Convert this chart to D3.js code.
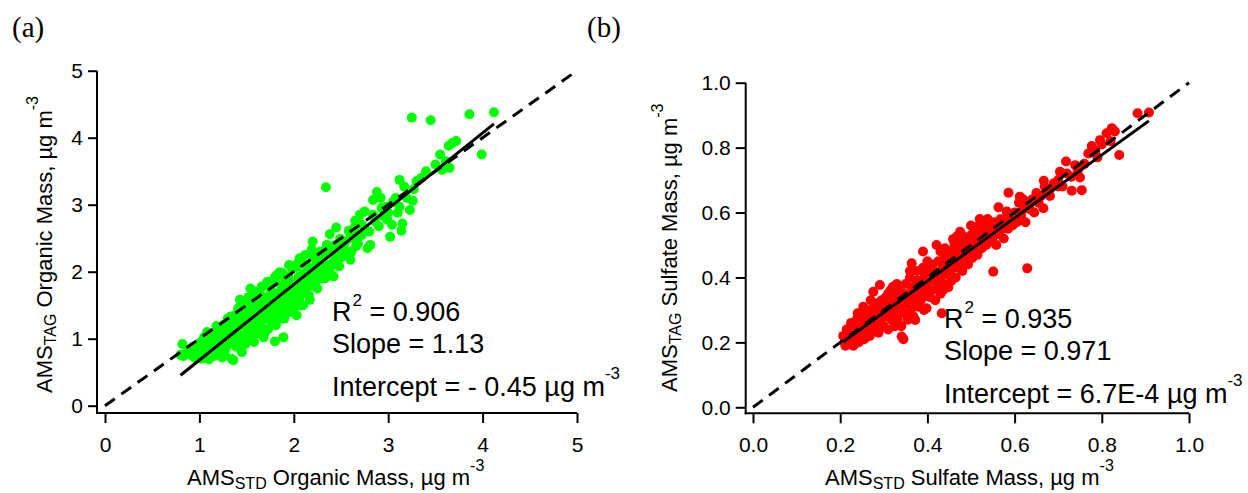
<!DOCTYPE html>
<html>
<head>
<meta charset="utf-8">
<script src="https://cdnjs.cloudflare.com/ajax/libs/d3/7.8.5/d3.min.js"></script>
<style>
  body { margin: 0; background: #fff; }
  svg text { white-space: pre; }
</style>
</head>
<body>
<div id="chart"></div>
<script>
// organic mass: [AMS_STD, AMS_TAG], ug m-3
const organicPoints = [
  [0.80,0.76],[0.82,0.92],[0.83,0.74],[0.86,0.78],[0.88,0.83],[0.90,0.76],[0.93,0.88],[0.95,0.72],[0.97,0.80],
  [1.00,0.93],[1.00,0.76],[1.02,0.70],[1.03,0.85],[1.05,1.02],[1.06,0.78],[1.08,1.10],[1.08,0.91],[1.10,0.69],
  [1.11,0.82],[1.12,1.05],[1.13,0.95],[1.15,0.74],[1.16,0.88],[1.18,1.19],[1.18,1.02],[1.20,0.80],[1.21,0.94],
  [1.22,1.10],[1.24,0.72],[1.25,0.98],[1.26,1.21],[1.28,0.86],[1.29,1.06],[1.30,1.30],[1.31,0.93],[1.33,1.15],
  [1.34,0.70],[1.35,1.02],[1.36,0.68],[1.37,1.25],[1.38,1.35],[1.39,0.88],[1.40,1.10],[1.41,1.45],[1.42,0.97],
  [1.43,1.58],[1.44,1.20],[1.45,0.80],[1.46,1.33],[1.47,1.05],[1.48,1.42],[1.49,0.92],[1.50,1.54],[1.50,1.18],
  [1.52,1.28],[1.53,1.00],[1.54,1.75],[1.55,1.38],[1.56,1.12],[1.57,1.48],[1.58,0.95],[1.59,1.25],
  [1.60,1.62],[1.61,1.35],[1.62,1.08],[1.63,1.45],[1.64,1.70],[1.65,1.20],[1.66,1.55],[1.67,1.30],[1.68,1.02],
  [1.69,1.48],[1.70,1.80],[1.71,1.38],[1.72,1.62],[1.73,1.15],[1.74,1.52],[1.75,1.28],[1.76,1.72],[1.77,1.42],
  [1.78,1.60],[1.79,1.22],[1.80,0.96],[1.80,1.85],[1.81,1.50],[1.82,1.95],[1.83,1.35],[1.84,1.68],[1.85,1.99],
  [1.86,1.45],[1.87,1.78],[1.88,1.58],[1.89,1.02],[1.90,1.30],[1.91,1.88],[1.92,1.65],[1.93,1.50],[1.94,1.92],
  [1.95,1.75],[1.96,1.40],[1.97,1.60],[1.98,2.05],[1.99,1.82],
  [2.00,1.55],[2.02,2.10],[2.03,1.35],[2.03,2.07],[2.04,1.70],[2.05,1.92],[2.06,1.62],[2.08,2.15],[2.09,1.80],
  [2.10,1.50],[2.11,1.98],[2.12,1.72],[2.14,2.10],[2.15,1.88],[2.16,1.65],[2.17,1.58],[2.18,2.02],[2.19,2.33],
  [2.20,2.45],[2.20,1.80],[2.21,2.22],[2.22,1.95],[2.24,2.12],[2.25,1.75],[2.27,2.05],[2.28,2.30],[2.29,1.90],
  [2.30,2.18],[2.31,2.00],[2.33,2.25],[2.34,3.26],[2.35,2.40],[2.35,2.10],[2.37,1.95],[2.38,2.56],[2.38,2.03],
  [2.40,2.28],[2.42,1.93],[2.42,2.15],[2.44,2.25],[2.45,2.66],[2.46,2.38],[2.48,2.08],[2.49,2.49],
  [2.51,2.22],[2.53,2.35],[2.55,2.45],[2.58,2.61],[2.60,2.18],[2.61,2.30],[2.63,2.50],[2.65,2.76],[2.66,2.38],
  [2.68,2.42],[2.70,2.85],[2.72,2.55],[2.75,2.90],[2.76,2.62],[2.78,2.35],[2.81,2.40],[2.84,2.85],[2.84,3.07],
  [2.88,3.19],[2.90,2.68],[2.92,3.10],[2.95,2.83],[2.98,2.97],[2.99,2.78],[3.02,2.52],[3.04,2.70],[3.05,3.04],
  [3.10,2.88],[3.12,2.97],[3.12,3.37],[3.14,2.61],[3.15,2.72],[3.17,3.27],[3.23,2.92],[3.26,3.06],[3.27,3.23],
  [3.25,4.30],[3.35,3.40],[3.45,4.26],[3.57,3.52],[3.61,3.65],[3.64,3.88],[3.65,3.55],[3.68,3.92],[3.72,3.95],
  [3.86,4.35],[3.99,3.75],[4.12,4.38],
  [1.02,0.95],[1.07,0.88],[1.12,0.78],[1.14,1.08],[1.19,0.90],[1.23,1.00],[1.27,0.80],[1.32,1.05],[1.36,0.95],
  [1.40,1.25],[1.44,1.02],[1.47,1.22],[1.51,1.08],[1.54,1.30],[1.58,1.15],[1.61,1.50],[1.64,1.25],[1.68,1.40],
  [1.70,1.10],[1.72,1.30],[1.75,1.45],[1.78,1.35],[1.81,1.20],[1.84,1.50],[1.87,1.30],[1.90,1.60],[1.93,1.40],
  [1.96,1.70],[2.00,1.45],[2.03,1.85],[2.06,1.50],[2.10,1.70],[2.13,1.95],[2.16,1.80],[2.20,2.05],[2.23,1.85],
  [2.26,2.20],[2.30,2.05],[2.33,1.90],[2.36,2.30],[2.40,2.10],[2.44,2.40],[2.47,2.30],[2.52,2.40],[2.56,2.28],
  [2.60,2.55],[2.64,2.65],[2.67,2.50],[2.72,2.70],[2.80,2.60],[2.86,2.75],[2.93,2.95],[3.00,2.88],[3.08,3.10],
  [3.20,3.10],[3.30,3.35],[3.40,3.50],[3.50,3.60],[3.55,3.75],[1.20,1.12],[1.27,1.15],[1.33,1.33],[1.45,1.48],
  [1.52,1.62],[1.60,1.70],[1.66,1.78],[1.72,1.85],[1.80,1.92],[1.88,1.98],[1.95,2.10],[2.06,2.20],[2.12,2.25]
];

// sulfate mass: [AMS_STD, AMS_TAG], ug m-3
const sulfatePoints = [
  [0.207,0.22],[0.21,0.20],[0.212,0.19],[0.215,0.24],[0.218,0.21],[0.22,0.23],[0.222,0.20],[0.225,0.26],[0.228,0.22],
  [0.23,0.19],[0.233,0.24],[0.235,0.21],[0.238,0.27],[0.24,0.23],[0.242,0.20],[0.245,0.25],[0.248,0.22],[0.25,0.29],
  [0.252,0.24],[0.253,0.31],[0.255,0.21],[0.258,0.26],[0.26,0.23],[0.262,0.28],[0.265,0.25],[0.268,0.22],[0.27,0.30],
  [0.272,0.26],[0.275,0.24],[0.276,0.356],[0.278,0.28],[0.28,0.25],[0.282,0.32],[0.285,0.27],[0.288,0.23],[0.29,0.30],
  [0.291,0.377],[0.293,0.26],[0.295,0.33],[0.298,0.28],
  [0.30,0.25],[0.302,0.31],[0.305,0.34],[0.308,0.28],[0.31,0.24],[0.312,0.30],[0.315,0.36],[0.318,0.27],[0.32,0.32],
  [0.321,0.371],[0.323,0.29],[0.325,0.25],[0.328,0.34],[0.33,0.31],[0.332,0.27],[0.335,0.36],[0.338,0.30],[0.34,0.25],
  [0.341,0.218],[0.343,0.33],[0.345,0.21],[0.347,0.29],[0.35,0.38],[0.352,0.32],[0.355,0.27],[0.358,0.35],[0.36,0.40],
  [0.362,0.30],[0.364,0.444],[0.365,0.34],[0.368,0.28],[0.37,0.37],[0.372,0.269],[0.374,0.32],[0.376,0.42],[0.378,0.35],
  [0.38,0.31],[0.382,0.39],[0.385,0.33],[0.388,0.37],[0.39,0.48],[0.392,0.30],[0.394,0.41],[0.396,0.35],[0.398,0.305],
  [0.40,0.38],[0.402,0.42],[0.405,0.34],[0.408,0.40],[0.41,0.36],[0.412,0.44],[0.415,0.39],[0.418,0.33],[0.42,0.41],
  [0.421,0.50],[0.423,0.37],[0.425,0.45],[0.428,0.40],[0.43,0.35],[0.433,0.29],[0.435,0.43],[0.436,0.361],[0.438,0.38],
  [0.44,0.47],[0.442,0.41],[0.445,0.44],[0.448,0.37],[0.45,0.48],[0.452,0.42],[0.455,0.39],[0.458,0.46],[0.459,0.518],
  [0.46,0.43],[0.462,0.50],[0.465,0.40],[0.467,0.526],[0.468,0.45],[0.47,0.48],[0.472,0.43],[0.475,0.541],[0.476,0.51],
  [0.478,0.46],[0.48,0.42],[0.483,0.49],[0.485,0.45],[0.488,0.52],[0.49,0.47],[0.493,0.44],[0.495,0.50],[0.498,0.48],
  [0.50,0.53],[0.503,0.46],[0.505,0.51],[0.508,0.55],[0.51,0.49],[0.512,0.53],[0.515,0.47],[0.518,0.56],[0.52,0.51],
  [0.523,0.54],[0.525,0.49],[0.528,0.57],[0.53,0.52],[0.533,0.55],[0.535,0.50],[0.538,0.58],[0.54,0.53],[0.543,0.56],
  [0.545,0.51],[0.548,0.55],[0.551,0.418],[0.553,0.57],[0.555,0.53],[0.558,0.50],[0.56,0.56],[0.563,0.616],[0.565,0.54],
  [0.568,0.58],[0.57,0.55],[0.575,0.52],[0.578,0.57],[0.582,0.603],[0.585,0.55],[0.586,0.661],[0.59,0.58],[0.595,0.56],
  [0.60,0.60],[0.605,0.57],[0.61,0.63],[0.612,0.649],[0.615,0.59],[0.62,0.61],[0.625,0.57],[0.629,0.428],[0.63,0.62],
  [0.64,0.64],[0.645,0.60],[0.65,0.66],[0.655,0.63],[0.666,0.613],[0.667,0.698],[0.669,0.68],[0.675,0.66],[0.681,0.651],
  [0.69,0.69],[0.70,0.70],[0.704,0.726],[0.71,0.68],[0.718,0.757],[0.72,0.72],[0.731,0.667],[0.739,0.746],[0.745,0.73],
  [0.75,0.708],[0.754,0.669],[0.769,0.782],[0.777,0.805],[0.785,0.79],[0.796,0.823],[0.80,0.81],[0.811,0.844],
  [0.82,0.82],[0.823,0.860],[0.83,0.85],[0.840,0.777],[0.882,0.906],[0.908,0.908],
  [0.215,0.20],[0.225,0.23],[0.235,0.25],[0.245,0.22],[0.255,0.28],[0.265,0.27],[0.275,0.29],[0.285,0.30],[0.295,0.31],
  [0.305,0.29],[0.315,0.32],[0.325,0.33],[0.335,0.34],[0.345,0.35],[0.355,0.33],[0.365,0.37],[0.375,0.39],[0.385,0.35],
  [0.395,0.39],[0.405,0.41],[0.415,0.42],[0.425,0.40],[0.435,0.45],[0.445,0.42],[0.455,0.46],[0.465,0.47],[0.475,0.45],
  [0.485,0.48],[0.495,0.46],[0.505,0.49],[0.515,0.52],[0.525,0.51],[0.535,0.54],[0.545,0.53],[0.555,0.55],[0.565,0.57],
  [0.575,0.56],[0.585,0.59],[0.60,0.58],[0.62,0.64],[0.635,0.61],[0.66,0.65],[0.68,0.67],[0.70,0.68],[0.73,0.71],
  [0.76,0.75],[0.79,0.77],[0.33,0.38],[0.36,0.42],[0.40,0.45],[0.44,0.49],[0.48,0.53],[0.52,0.58],[0.50,0.56],
  [0.31,0.35],[0.27,0.33],[0.24,0.29],[0.39,0.43],[0.43,0.48]
];

const organicTicks = [0, 1, 2, 3, 4, 5];
const sulfateTicks = [0, 0.2, 0.4, 0.6, 0.8, 1.0];

// [slope, intercept]
const organicFit = [1.13, -0.45];
const sulfateFit = [0.971, 6.7e-4];

const organicStats = ["0.906", "1.13", "- 0.45"];
const sulfateStats = ["0.935", "0.971", "6.7E-4"];

const sans = "'Liberation Sans', Arial, sans-serif";

const svg = d3.select("#chart")
  .append("svg")
    .attr("width", 1248)
    .attr("height", 493)
    .style("background", "#fff")
    .style("font-family", sans);

function drawPanel(p) {
  const g = svg.append("g");

  const lo = p.ticks[0], hi = p.ticks[p.ticks.length - 1];
  const x = d3.scaleLinear().domain([lo, hi]).range(p.xRange);
  const y = d3.scaleLinear().domain([lo, hi]).range(p.yRange);

  // points first, lines on top
  g.append("g").selectAll("circle")
    .data(p.points)
    .join("circle")
      .attr("cx", d => x(d[0]))
      .attr("cy", d => y(d[1]))
      .attr("r", 5)
      .attr("fill", p.color);

  // 1:1 line
  g.append("line")
    .attr("x1", x(lo)).attr("y1", y(lo))
    .attr("x2", x(hi)).attr("y2", y(hi))
    .attr("stroke", "#000")
    .attr("stroke-width", 3)
    .attr("stroke-dasharray", p.dash);

  // fit line over the data range
  const ext = d3.extent(p.points, d => d[0]);
  g.append("line")
    .attr("x1", x(ext[0])).attr("y1", y(p.fit[0] * ext[0] + p.fit[1]))
    .attr("x2", x(ext[1])).attr("y2", y(p.fit[0] * ext[1] + p.fit[1]))
    .attr("stroke", "#000")
    .attr("stroke-width", 3);

  // axes, offset from the data origin
  const xAxis = g.append("g")
    .attr("transform", `translate(0,${p.axisY})`)
    .call(d3.axisBottom(x).tickValues(p.ticks).tickFormat(p.fmt).tickSize(10).tickSizeOuter(0));
  xAxis.select(".domain").remove();
  xAxis.selectAll("line").attr("stroke-width", 2);
  xAxis.selectAll("text")
    .attr("y", 38.5).attr("dy", null)
    .attr("fill", "#000")
    .style("font-size", "21px")
    .style("font-family", sans);

  const yAxis = g.append("g")
    .attr("transform", `translate(${p.axisX},0)`)
    .call(d3.axisLeft(y).tickValues(p.ticks).tickFormat(p.fmt).tickSize(p.yTick).tickPadding(5).tickSizeOuter(0));
  yAxis.select(".domain").remove();
  yAxis.selectAll("line").attr("stroke-width", 2);
  yAxis.selectAll("text")
    .attr("dy", "0.34em")
    .attr("fill", "#000")
    .style("font-size", "21px")
    .style("font-family", sans);

  g.append("line")
    .attr("x1", p.axisX - 1).attr("x2", x(hi))
    .attr("y1", p.axisY).attr("y2", p.axisY)
    .attr("stroke", "#000").attr("stroke-width", 2);
  g.append("line")
    .attr("x1", p.axisX).attr("x2", p.axisX)
    .attr("y1", p.axisY + 1).attr("y2", y(hi))
    .attr("stroke", "#000").attr("stroke-width", 2);

  // panel letter
  g.append("text")
    .attr("x", p.labelX).attr("y", 37)
    .style("font-family", "'Liberation Serif', 'Times New Roman', serif")
    .style("font-size", "29px")
    .text(p.label);

  // axis titles
  const titles = [
    {sub: "STD", x: p.xTitle[0], y: p.xTitle[1], rot: ""},
    {sub: "TAG", x: p.yTitle[0], y: p.yTitle[1], rot: " rotate(-90)"}
  ];
  titles.forEach(t => {
    const txt = g.append("text")
      .attr("transform", `translate(${t.x},${t.y})${t.rot}`)
      .style("font-size", "22px");
    txt.append("tspan").text("AMS");
    txt.append("tspan").style("font-size", "16px").attr("dy", 4).text(t.sub);
    txt.append("tspan").attr("dy", -4).text(" " + p.species + " Mass, µg m");
    txt.append("tspan").style("font-size", "16px").attr("dy", -14).text("-3");
  });

  // statistics
  const st = g.append("g").style("font-size", "27px");
  const r2 = st.append("text").attr("x", p.statX).attr("y", p.statY[0]);
  r2.append("tspan").text("R");
  r2.append("tspan").style("font-size", "17px").attr("dx", 1).attr("dy", -15).text("2");
  r2.append("tspan").attr("dy", 15).text(" = " + p.stats[0]);
  st.append("text").attr("x", p.statX).attr("y", p.statY[1]).text("Slope = " + p.stats[1]);
  const ic = st.append("text").attr("x", p.statX).attr("y", p.statY[2]);
  ic.append("tspan").text("Intercept = " + p.stats[2] + " µg m");
  ic.append("tspan").style("font-size", "17px").attr("dy", -17).text("-3");
}

drawPanel({
  points: organicPoints, ticks: organicTicks, fit: organicFit, stats: organicStats,
  color: "#00ff00", species: "Organic", label: "(a)", labelX: 12,
  fmt: d3.format("d"),
  xRange: [105, 577], yRange: [405.7, 70.7], axisX: 97, axisY: 413, yTick: 9,
  dash: "12,8",
  xTitle: [187, 485], yTitle: [52, 393],
  statX: 332, statY: [320.7, 352.7, 396]
});

drawPanel({
  points: sulfatePoints, ticks: sulfateTicks, fit: sulfateFit, stats: sulfateStats,
  color: "#ff0000", species: "Sulfate", label: "(b)", labelX: 587,
  fmt: d3.format(".1f"),
  xRange: [753, 1189], yRange: [407.3, 82.7], axisX: 745.7, axisY: 413.3, yTick: 10,
  dash: "12,8",
  xTitle: [825, 485], yTitle: [677, 392],
  statX: 944, statY: [328.3, 360, 403.3]
});
</script>
</body>
</html>
